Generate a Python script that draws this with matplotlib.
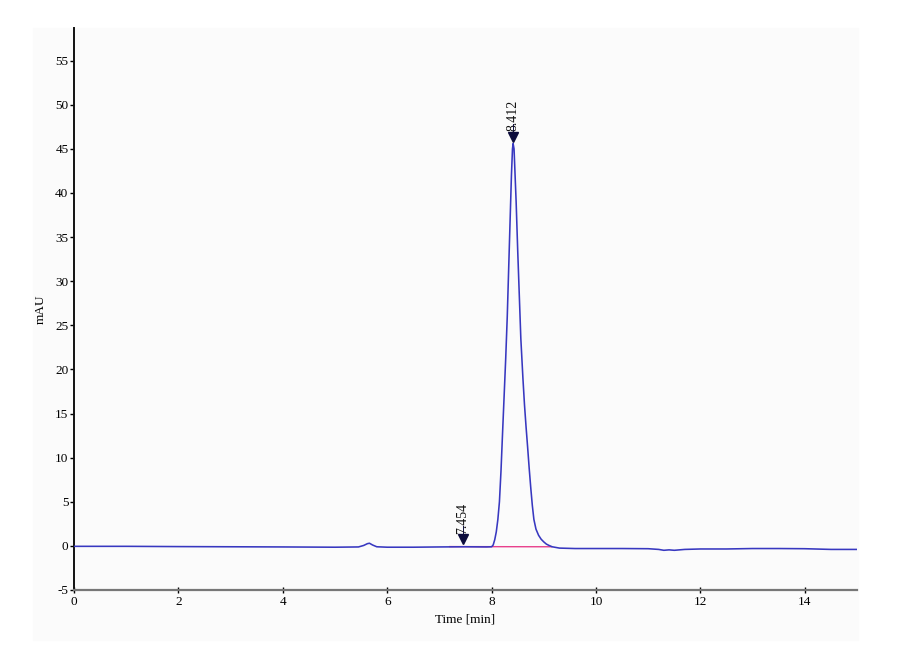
import matplotlib.pyplot as plt
from matplotlib.patches import Rectangle

# retention time [min] and signal [mAU]
t_base1 = [0.0, 1.0, 2.0, 3.0, 4.0, 5.0, 5.45, 5.55, 5.62, 5.66, 5.72, 5.8, 6.0, 6.5, 7.0, 7.5, 7.9]
v_base1 = [-0.05, -0.05, -0.08, -0.1, -0.12, -0.15, -0.12, 0.05, 0.25, 0.3, 0.1, -0.1, -0.15, -0.15, -0.12, -0.1, -0.12]

t_peak = [8.0, 8.03, 8.06, 8.09, 8.12, 8.15, 8.18, 8.21, 8.24, 8.27, 8.30, 8.33, 8.36,
          8.38, 8.40, 8.412, 8.43, 8.45, 8.47, 8.50, 8.53, 8.56, 8.60, 8.63, 8.66, 8.69,
          8.72, 8.75, 8.78, 8.81, 8.85, 8.90, 8.95, 9.00, 9.05, 9.10, 9.16]
v_peak = [-0.1, 0.1, 0.7, 1.6, 3.0, 5.0, 8.5, 12.8, 17.0, 21.2, 26.0, 32.0, 38.0,
          42.0, 45.0, 45.6, 45.0, 42.0, 39.0, 33.5, 28.5, 23.5, 19.0, 16.0, 13.5, 11.2,
          8.8, 6.6, 4.6, 3.0, 1.9, 1.2, 0.75, 0.45, 0.2, 0.05, -0.1]

t_base2 = [9.3, 9.6, 10.0, 10.5, 11.0, 11.2, 11.3, 11.4, 11.5, 11.7, 12.0, 12.5, 13.0, 13.5, 14.0, 14.5, 15.0]
v_base2 = [-0.25, -0.3, -0.3, -0.3, -0.32, -0.4, -0.5, -0.45, -0.5, -0.4, -0.35, -0.35, -0.3, -0.3, -0.32, -0.4, -0.4]

# integration baseline (pink)
t_int = [7.2, 9.15]
v_int = [-0.08, -0.1]

# peak labels
peak_t = [7.454, 8.412]
peak_v = [0.0, 45.6]
peak_lab = ['7.454', '8.412']

x_ticks = [0, 2, 4, 6, 8, 10, 12, 14]
y_ticks = [-5, 0, 5, 10, 15, 20, 25, 30, 35, 40, 45, 50, 55]

plt.rcParams['font.family'] = ['Liberation Serif', 'DejaVu Serif']
plt.rcParams['axes.unicode_minus'] = False

fig = plt.figure(figsize=(9, 6.6), dpi=100)
fig.patches.append(Rectangle((33/900, 1-640/660), (858-33)/900, (640-28)/660,
                             transform=fig.transFigure, color='#fbfbfb', zorder=-10))
ax = fig.add_axes([74/900, 1-590/660, (857-74)/900, (590-28)/660])
ax.set_facecolor('none')

line_c = '#3838c0'
ax.plot(t_base1 + t_peak + t_base2, v_base1 + v_peak + v_base2, color=line_c, lw=1.15, zorder=3)
ax.plot(t_int, v_int, color='#e8408c', lw=1.0, zorder=2)

for t, v, s in zip(peak_t, peak_v, peak_lab):
    ax.plot(t, v + 0.75, marker='v', color='#0c0c3c', ms=7, zorder=5)
    ax.plot([t, t], [v + 1.2, v + 2.2], color='#0c0c3c', lw=0.7, zorder=5)
    ax.text(t, v + 1.4, s, rotation=90, ha='center', va='bottom', fontsize=10,
            color='#111111')

ax.set_xlim(0, 15)
ax.set_ylim(-5, 58.7)
ax.set_xticks(x_ticks)
ax.set_yticks(y_ticks)
ax.tick_params(axis='both', labelsize=9.5, pad=1, length=3, width=1)
ax.tick_params(axis='x', direction='inout', length=5, pad=2)

for s in ['top', 'right']:
    ax.spines[s].set_visible(False)
ax.spines['left'].set_color('#111111')
ax.spines['left'].set_linewidth(1.4)
ax.spines['bottom'].set_color('#777777')
ax.spines['bottom'].set_linewidth(1.6)

ax.set_xlabel('Time [min]', fontsize=9.5, labelpad=4)
ax.set_ylabel('mAU', fontsize=9.5, labelpad=6)

fig.savefig('out.png', dpi=100)
